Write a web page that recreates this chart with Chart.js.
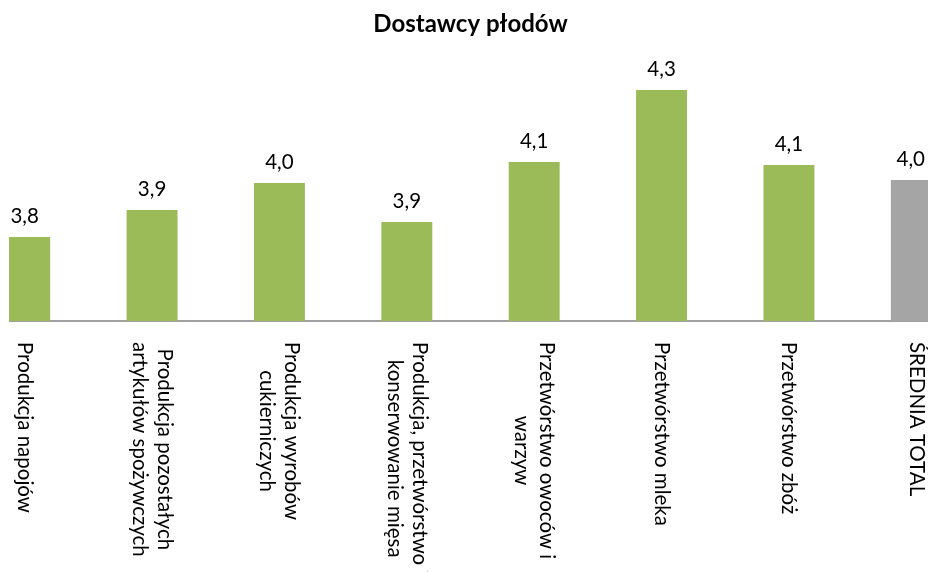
<!DOCTYPE html>
<html>
<head>
<meta charset="utf-8">
<script src="https://cdn.jsdelivr.net/npm/chart.js@4"></script>
<style>
    html, body { margin: 0; padding: 0; background: #fff; overflow: hidden; }
    #clip { position: absolute; left: 9px; top: 0; width: 919px; height: 572px; overflow: hidden; }
    #box { position: absolute; left: -49px; top: 0; width: 1020px; height: 572px; }
</style>
</head>
<body>
<div id="clip"><div id="box"><canvas id="chart"></canvas></div></div>
<script>
// Dane wykresu
const categories = [
    ["Produkcja napojów"],
    ["Produkcja pozostałych", "artykułów spożywczych"],
    ["Produkcja wyrobów", "cukierniczych"],
    ["Produkcja, przetwórstwo i", "konserwowanie mięsa"],
    ["Przetwórstwo owoców i", "warzyw"],
    ["Przetwórstwo mleka"],
    ["Przetwórstwo zbóż"],
    ["ŚREDNIA TOTAL"]
];
const values = [3.83, 3.92, 4.01, 3.88, 4.08, 4.32, 4.07, 4.02];
const barColors = ["#9BBB59", "#9BBB59", "#9BBB59", "#9BBB59", "#9BBB59", "#9BBB59", "#9BBB59", "#A5A5A5"];
const title = "Dostawcy płodów";

const labelFont = "20.5px Lato";

// Wartości nad słupkami (ostatnia przesunięta, żeby zmieściła się w kadrze)
const valueLabels = {
    id: "valueLabels",
    afterDatasetsDraw(chart) {
        const ctx = chart.ctx;
        const meta = chart.getDatasetMeta(0);
        const clipRect = document.getElementById("clip").getBoundingClientRect();
        const canvasRect = chart.canvas.getBoundingClientRect();
        const viewRight = clipRect.right - canvasRect.left - 3;
        ctx.save();
        ctx.font = labelFont;
        ctx.fillStyle = "#000";
        ctx.textAlign = "center";
        ctx.textBaseline = "alphabetic";
        meta.data.forEach((bar, i) => {
            const txt = values[i].toFixed(1).replace(".", ",");
            const w = ctx.measureText(txt).width;
            const x = Math.min(bar.x, viewRight - w / 2);
            ctx.fillText(txt, x, bar.y - 14);
        });
        ctx.restore();
    }
};

// Etykiety osi X obrócone o 90 stopni (czytane z góry na dół)
const rotatedTicks = {
    id: "rotatedTicks",
    afterDraw(chart) {
        const ctx = chart.ctx;
        const xScale = chart.scales.x;
        const top = chart.chartArea.bottom + 21;
        const lineH = 25;
        ctx.save();
        ctx.font = labelFont;
        ctx.fillStyle = "#000";
        ctx.textAlign = "center";
        ctx.textBaseline = "middle";
        categories.forEach((lines, i) => {
            const x = xScale.getPixelForValue(i);
            const maxW = Math.max(...lines.map(l => ctx.measureText(l).width));
            ctx.save();
            ctx.translate(x, top);
            ctx.rotate(Math.PI / 2);
            lines.forEach((line, k) => {
                const off = (k - (lines.length - 1) / 2) * lineH;
                ctx.fillText(line, maxW / 2, off);
            });
            ctx.restore();
        });
        ctx.restore();
    }
};

new Chart(document.getElementById("chart"), {
    type: "bar",
    data: {
        labels: categories,
        datasets: [{
            data: values,
            backgroundColor: barColors,
            barPercentage: 0.4,
            categoryPercentage: 1.0
        }]
    },
    options: {
        responsive: true,
        maintainAspectRatio: false,
        animation: false,
        layout: { padding: { left: 1, right: 0, top: 0, bottom: 251 } },
        plugins: {
            legend: { display: false },
            tooltip: { enabled: false },
            title: {
                display: true,
                text: title,
                color: "#000",
                font: { family: "Lato", size: 24, weight: "bold", lineHeight: 1.2 },
                padding: { top: 10, bottom: 27.2 }
            }
        },
        scales: {
            x: {
                grid: { display: false, drawTicks: false },
                border: { display: true, color: "#A0A0A0", width: 2 },
                ticks: { display: false }
            },
            y: {
                display: false,
                min: 3.55,
                max: 4.4
            }
        }
    },
    plugins: [valueLabels, rotatedTicks]
});
</script>
</body>
</html>
